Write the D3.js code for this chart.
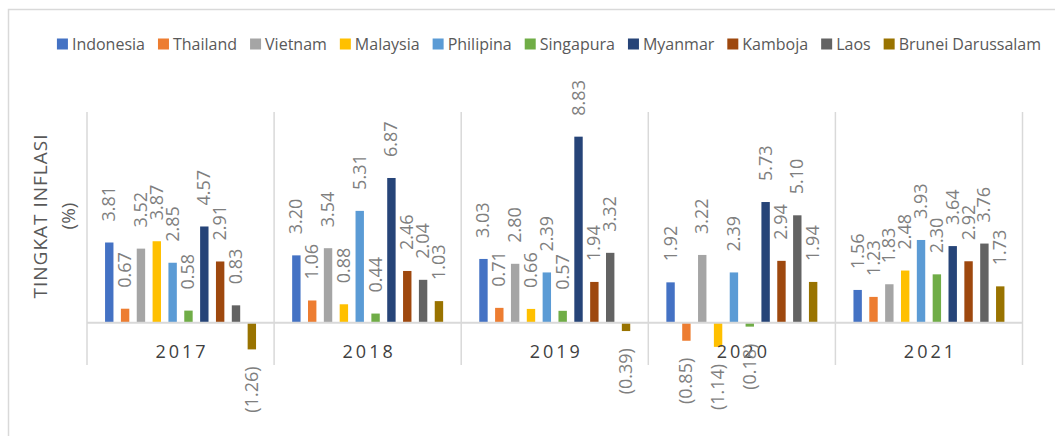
<!DOCTYPE html>
<html><head><meta charset="utf-8">
<script src="https://cdn.jsdelivr.net/npm/d3@7"></script>
<style>
html,body{margin:0;padding:0;background:#fff;}
svg{display:block;font-family:"Open Sans",sans-serif;}
</style></head>
<body><svg id="c" width="1055" height="436"></svg>
<script>
const years = ["2017","2018","2019","2020","2021"];
const countries = ["Indonesia","Thailand","Vietnam","Malaysia","Philipina","Singapura","Myanmar","Kamboja","Laos","Brunei Darussalam"];
const colors = ["#4472C4","#ED7D31","#A5A5A5","#FFC000","#5B9BD5","#70AD47","#264478","#9E480E","#636363","#997300"];
const indonesia = [3.81,3.20,3.03,1.92,1.56];
const thailand  = [0.67,1.06,0.71,-0.85,1.23];
const vietnam   = [3.52,3.54,2.80,3.22,1.83];
const malaysia  = [3.87,0.88,0.66,-1.14,2.48];
const philipina = [2.85,5.31,2.39,2.39,3.93];
const singapura = [0.58,0.44,0.57,-0.18,2.30];
const myanmar   = [4.57,6.87,8.83,5.73,3.64];
const kamboja   = [2.91,2.46,1.94,2.94,2.92];
const laos      = [0.83,2.04,3.32,5.10,3.76];
const brunei    = [-1.26,1.03,-0.39,1.94,1.73];
const yTitle = ["TINGKAT INFLASI","(%)"];
const yDomain = [-2,10];

const series = [indonesia,thailand,vietnam,malaysia,philipina,singapura,myanmar,kamboja,laos,brunei];

const svg = d3.select("#c");
const plot = {l:87, r:1022.5, t:112, b:365};

// outer border
svg.append("rect").attr("x",8.5).attr("y",9.5).attr("width",1100).attr("height",500)
  .attr("fill","none").attr("stroke","#d9d9d9").attr("stroke-width",1.5);

const x0 = d3.scaleBand().domain(years).range([plot.l, plot.r]).paddingInner(0).paddingOuter(0);
const x1 = d3.scaleBand().domain(countries).range([0, x0.bandwidth()]).paddingInner(0.47).paddingOuter(1.14);
const y = d3.scaleLinear().domain(yDomain).range([plot.b, plot.t]);

// vertical separators
const seps = years.map(d=>x0(d)).concat([plot.r]);
svg.append("g").selectAll("line").data(seps).join("line")
  .attr("x1",d=>d).attr("x2",d=>d).attr("y1",plot.t).attr("y2",plot.b)
  .attr("stroke","#d9d9d9").attr("stroke-width",1.5);

// bars
const g = svg.append("g");
const data = [];
years.forEach((yr,i)=>countries.forEach((c,j)=>data.push({yr, c, j, v:series[j][i]})));
g.selectAll("rect").data(data).join("rect")
  .attr("x",d=>x0(d.yr)+x1(d.c))
  .attr("width",x1.bandwidth())
  .attr("y",d=>y(Math.max(0,d.v)))
  .attr("height",d=>Math.abs(y(d.v)-y(0)))
  .attr("fill",d=>colors[d.j]);

// baseline
svg.append("line").attr("x1",plot.l).attr("x2",plot.r).attr("y1",y(0)).attr("y2",y(0))
  .attr("stroke","#d9d9d9").attr("stroke-width",2);

// year labels
svg.append("g").selectAll("text").data(years).join("text")
  .attr("x",d=>x0(d)+x0.bandwidth()/2+1.5).attr("y",358)
  .attr("text-anchor","middle").attr("font-size",18).attr("letter-spacing",3)
  .attr("fill","#404040").text(d=>d);

// data labels
const fmt = v => v<0 ? "("+Math.abs(v).toFixed(2)+")" : v.toFixed(2);
svg.append("g").selectAll("text").data(data).join("text")
  .attr("transform",d=>{
    const cx = x0(d.yr)+x1(d.c)+x1.bandwidth()/2;
    const yy = d.v>=0 ? y(d.v)-21 : y(d.v)+17;
    return `translate(${cx+6},${yy}) rotate(-90)`;
  })
  .attr("text-anchor",d=>d.v>=0?"start":"end")
  .attr("font-size",18).attr("fill","#7f7f7f").text(d=>fmt(d.v));

// y title
const yt = svg.append("text").attr("transform","translate(0,216) rotate(-90)")
  .attr("text-anchor","middle").attr("font-size",19).attr("fill","#595959");
yt.append("tspan").attr("x",0).attr("y",47).attr("letter-spacing",1).text(yTitle[0]);
yt.append("tspan").attr("x",0).attr("y",75).text(yTitle[1]);

// legend
const lg = svg.append("g");
const items = lg.selectAll("g").data(countries).join("g");
items.append("rect").attr("width",11).attr("height",11).attr("y",-5.5).attr("fill",(d,i)=>colors[i]);
items.append("text").attr("x",15).attr("y",6).attr("font-size",16).attr("fill","#595959").text(d=>d);
let xs = 0; const pos=[];
items.each(function(){ pos.push(xs); xs += 15 + d3.select(this).select("text").node().getComputedTextLength() + 13; });
const total = xs - 13;
const lx = 549 - total/2;
items.attr("transform",(d,i)=>`translate(${lx+pos[i]},44)`);
</script></body></html>
